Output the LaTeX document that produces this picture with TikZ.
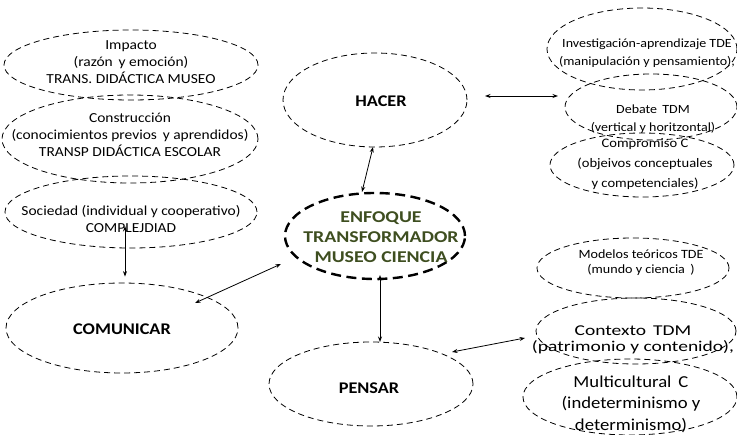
\documentclass[tikz,border=0pt]{standalone}
\usepackage{fontspec}
\setmainfont{Carlito}[FakeStretch=1.12]
\newfontfamily\widefont[FakeStretch=1.2]{Carlito}
\newfontfamily\ctxfont[FakeStretch=1.3]{Carlito}
\usetikzlibrary{shapes.geometric,arrows.meta,calc}
\definecolor{enfgreen}{RGB}{62,78,32}
\begin{document}
\begin{tikzpicture}[x=1pt,y=-1pt,
  ell/.style={draw, ellipse, dash pattern=on 6pt off 4pt, line width=0.8pt, inner sep=0pt},
  bigell/.style={draw, ellipse, dash pattern=on 10pt off 5.5pt, line width=2.4pt, inner sep=0pt},
  txt/.style={align=center, inner sep=0pt, font=\fontsize{13.8}{17}\selectfont},
  rtxt/.style={align=center, inner sep=0pt, font=\fontsize{12.5}{18}\selectfont},
  lbl/.style={inner sep=0pt, font=\fontsize{16.3}{20}\selectfont\bfseries},
  arr/.style={{Stealth[length=5.5pt,width=4pt]}-{Stealth[length=5.5pt,width=4pt]}, line width=0.8pt}
]
\useasboundingbox (0,0) rectangle (737,435);
% left column
\node[ell, minimum width=254pt, minimum height=70pt] (imp) at (131,65) {};
\node[ell, minimum width=256pt, minimum height=88pt] (con) at (130,139) {};
\node[ell, minimum width=252pt, minimum height=72pt] (soc) at (131,212) {};
\node[ell, minimum width=232pt, minimum height=90pt] (com) at (122,328) {};
\node[txt] (impT) at (131,62) {Impacto\\(razón\, y emoción)\\TRANS. DIDÁCTICA MUSEO};
\node[txt] (conT) at (130,135) {Construcción\\(conocimientos previos\, y aprendidos)\\TRANSP DIDÁCTICA ESCOLAR};
\node[txt] (socT) at (131,219) {Sociedad (individual y cooperativo)\\COMPLEJDIAD};
\node[lbl] (comT) at (122,329) {COMUNICAR};
% centre
\node[ell, minimum width=184pt, minimum height=94pt] (hac) at (375,100) {};
\node[lbl] (hacT) at (381,101) {HACER};
\node[bigell, minimum width=180pt, minimum height=86pt] (enf) at (375,236) {};
\node[align=center, inner sep=0pt, text=enfgreen, font=\widefont\fontsize{16.5}{20}\selectfont\bfseries] (enfT) at (381,237) {ENFOQUE\\TRANSFORMADOR\\MUSEO CIENCIA};
\node[ell, minimum width=204pt, minimum height=84pt] (pen) at (371,384) {};
\node[lbl] (penT) at (369,388) {PENSAR};
% right column
\node[ell, minimum width=190pt, minimum height=82pt] (inv) at (642,49) {};
\node[ell, minimum width=172pt, minimum height=66pt] (deb) at (651,107) {};
\node[ell, minimum width=184pt, minimum height=64pt] (comp) at (642,165) {};
\node[rtxt] (invT) at (647,53) {Investigación-aprendizaje TDE\\(manipulación y pensamiento),};
\node[rtxt] (debT) at (653,119) {Debate\, TDM\\(vertical y horitzontal)};
\node[rtxt, font=\fontsize{13}{20}\selectfont] (compT) at (645,164) {Compromiso C\\(objeivos conceptuales\\y competenciales)};
\node[ell, minimum width=192pt, minimum height=60pt] (mod) at (633,268) {};
\node[ell, minimum width=200pt, minimum height=66pt] (ctx) at (636,331) {};
\node[ell, minimum width=214pt, minimum height=76pt] (mul) at (630,397) {};
\node[rtxt, font=\fontsize{12.6}{15}\selectfont] (modT) at (641,263) {Modelos teóricos TDE\\(mundo y ciencia\, )};
\node[rtxt, font=\ctxfont\fontsize{15}{16}\selectfont] (ctxT) at (633,340) {Contexto\, TDM\\(patrimonio y contenido),};
\node[rtxt, font=\fontsize{16.7}{21.5}\selectfont] (mulT) at (631,404) {Multicultural\, C\\(indeterminismo y\\determinismo)};
% connectors
\draw[arr] ([shift={(-6,14)}]soc.center) -- ([shift={(3,-6)}]com.north);
\draw[arr] ([shift={(73,-25)}]com.center) -- ([shift={(-94,28)}]enf.center);
\draw[arr] ([shift={(-2,47)}]hac.center) -- ([shift={(-13,-44)}]enf.center);
\draw[arr] ([shift={(5,39)}]enf.center) -- ([shift={(9,-42)}]pen.center);
\draw[arr] ([shift={(110,-4)}]hac.center) -- ([shift={(-93,-11)}]deb.center);
\draw[arr] ([shift={(81,-32)}]pen.center) -- ([shift={(-111,7)}]ctx.center);
\end{tikzpicture}
\end{document}
